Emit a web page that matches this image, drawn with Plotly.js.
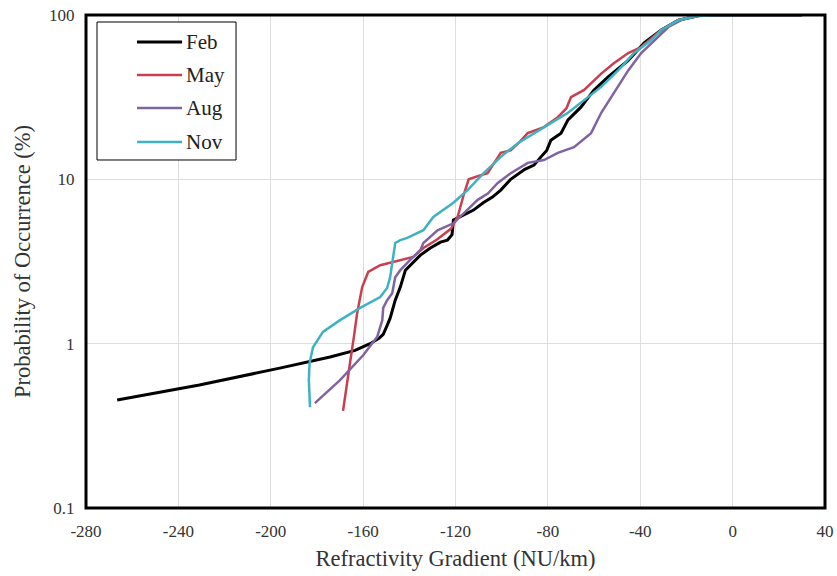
<!DOCTYPE html>
<html>
<head>
<meta charset="utf-8">
<script src="https://cdn.plot.ly/plotly-3.0.1.min.js"></script>
<style>html,body{margin:0;padding:0;background:#fff;}#chart{width:837px;height:576px;}</style>
</head>
<body>
<div id="chart"></div>
<script>
const seriesNames = ["Feb", "May", "Aug", "Nov"];
const seriesColors = ["#000000", "#C8404F", "#8064A2", "#3FB2C2"];

const febX = [-266.5, -230.9, -196.1, -174.3, -163.5, -157, -153, -151.3, -149.5, -148.3, -146.1, -143.9, -141.7, -138.7, -135.2, -130.9, -126.5, -123.5, -121.5, -120.9, -112.2, -108, -104, -100.4, -96.1, -90, -86, -83.0, -80.5, -78.7, -74.3, -71.3, -65.7, -60, -53.9, -45.2, -38.3, -30.9, -23.5, -13.5, 0, 30];
const febY = [0.454, 0.56, 0.71, 0.83, 0.91, 1.0, 1.08, 1.14, 1.3, 1.43, 1.84, 2.21, 2.8, 3.1, 3.46, 3.82, 4.15, 4.27, 4.6, 5.65, 6.5, 7.2, 7.8, 8.6, 10, 11.5, 12.2, 13.7, 15, 17.3, 19.1, 23, 27.5, 35, 42, 53, 67.6, 81, 93, 100, 100, 100];

const mayX = [-168.7, -167, -165.7, -164, -162.6, -160.4, -157.8, -152.6, -143.9, -138.3, -133.9, -128, -122, -119.1, -116.5, -114.3, -110, -106.1, -100.4, -96.1, -92, -88.7, -81.7, -75.7, -72, -70, -64.3, -56.9, -51.3, -45.2, -39.6, -30.9, -23.5, -13.5, 0, 30];
const mayY = [0.39, 0.55, 0.76, 1.1, 1.53, 2.21, 2.73, 3.0, 3.23, 3.37, 3.82, 4.3, 5.0, 5.9, 8.0, 10, 10.5, 10.9, 14.5, 15, 17, 19.1, 20.8, 23.9, 27, 31.6, 35, 44, 51, 58.7, 63.8, 81, 93, 100, 100, 100];

const augX = [-180.9, -170, -160, -153.9, -151.7, -151.3, -149.6, -147.4, -146.1, -143.9, -139.6, -135.2, -133.9, -127.8, -120.9, -115, -110.4, -106, -101.7, -96.1, -88.7, -81.7, -75.7, -68.7, -61.3, -56.9, -51.3, -45.2, -39.6, -33.9, -27.8, -21, -15, 0, 30];
const augY = [0.435, 0.6, 0.85, 1.1, 1.39, 1.65, 1.84, 2.03, 2.54, 2.8, 3.23, 3.72, 4.1, 4.9, 5.4, 6.5, 7.5, 8.2, 9.5, 10.9, 12.6, 13.1, 14.5, 15.7, 19.1, 25.4, 33.5, 46, 58.7, 70.5, 84.5, 95, 99, 100, 100];

const novX = [-183.0, -183.5, -183.2, -181.7, -177.4, -170, -161.3, -152.6, -149.6, -148.3, -147, -146.1, -143.9, -140.9, -133.9, -129.6, -120.9, -114.8, -107.8, -100.4, -93, -86.1, -78.7, -71.3, -64.3, -56.9, -49.6, -42.6, -35.2, -30.9, -23.5, -16.5, -10, 0, 30];
const novY = [0.41, 0.6, 0.76, 0.95, 1.18, 1.39, 1.65, 1.92, 2.18, 2.54, 3.37, 4.1, 4.27, 4.4, 4.9, 5.9, 7.2, 8.6, 10.9, 13.7, 16.6, 19.1, 22, 25.4, 30.4, 36.5, 46, 58.7, 70.5, 81, 93, 98, 99.5, 100, 100];

const xTickVals = [-280, -240, -200, -160, -120, -80, -40, 0, 40];
const yTickVals = [0.1, 1, 10, 100];
const yTickText = ["0.1", "1", "10", "100"];

const xs = [febX, mayX, augX, novX];
const ys = [febY, mayY, augY, novY];
const widths = [3, 2.5, 2.5, 2.5];

const serif = "'Liberation Serif', 'Times New Roman', Times, serif";

const traces = seriesNames.map((n, i) => ({
  type: "scatter", mode: "lines", name: n,
  x: xs[i], y: ys[i],
  line: {color: seriesColors[i], width: widths[i]},
  showlegend: false
}));

// custom legend (paper coordinates)
const legX0 = 0.0149, legX1 = 0.203, legY0 = 0.7059, legY1 = 0.9858;
const sampleX0 = 0.069, sampleX1 = 0.130, textX = 0.1326;
const rowY = [0.9452, 0.8783, 0.8114, 0.7424];

const shapes = [{
  type: "rect", xref: "paper", yref: "paper", x0: legX0, x1: legX1, y0: legY0, y1: legY1,
  line: {color: "#000", width: 1}, fillcolor: "#fff", layer: "above"
}];
const annotations = [];
seriesNames.forEach((n, i) => {
  shapes.push({type: "line", xref: "paper", yref: "paper", x0: sampleX0, x1: sampleX1, y0: rowY[i], y1: rowY[i],
    line: {color: seriesColors[i], width: widths[i]}, layer: "above"});
  annotations.push({xref: "paper", yref: "paper", x: textX, y: rowY[i], xanchor: "left", yanchor: "middle",
    text: n, showarrow: false, font: {family: serif, size: 21, color: "#222"}});
});
shapes.push({
  type: "rect", xref: "paper", yref: "paper", x0: 0, x1: 1, y0: 0, y1: 1,
  line: {color: "#000", width: 3}, fillcolor: "rgba(0,0,0,0)", layer: "above"
});

const layout = {
  width: 837, height: 576,
  margin: {l: 86, r: 12, t: 15, b: 68},
  paper_bgcolor: "#fff", plot_bgcolor: "#fff",
  font: {family: serif, color: "#222"},
  showlegend: false,
  xaxis: {
    range: [-280, 40], tickvals: xTickVals, ticktext: xTickVals.map(String),
    showgrid: true, gridcolor: "#dedede", gridwidth: 1, zeroline: false,
    ticks: "outside", ticklen: 8, tickcolor: "rgba(0,0,0,0)",
    tickfont: {family: serif, size: 17, color: "#333"},
    title: {text: "Refractivity Gradient (NU/km)", font: {family: serif, size: 22.5, color: "#333"}, standoff: 9},
    showline: false
  },
  yaxis: {
    type: "log", range: [-1, 2], tickvals: yTickVals, ticktext: yTickText,
    showgrid: true, gridcolor: "#dedede", gridwidth: 1, zeroline: false,
    ticks: "outside", ticklen: 7, tickcolor: "rgba(0,0,0,0)",
    tickfont: {family: serif, size: 17, color: "#333"},
    title: {text: "Probability of Occurrence (%)", font: {family: serif, size: 22.5, color: "#333"}, standoff: 12},
    showline: false
  },
  shapes: shapes,
  annotations: annotations
};

Plotly.newPlot("chart", traces, layout, {displayModeBar: false, staticPlot: true});
</script>
</body>
</html>
